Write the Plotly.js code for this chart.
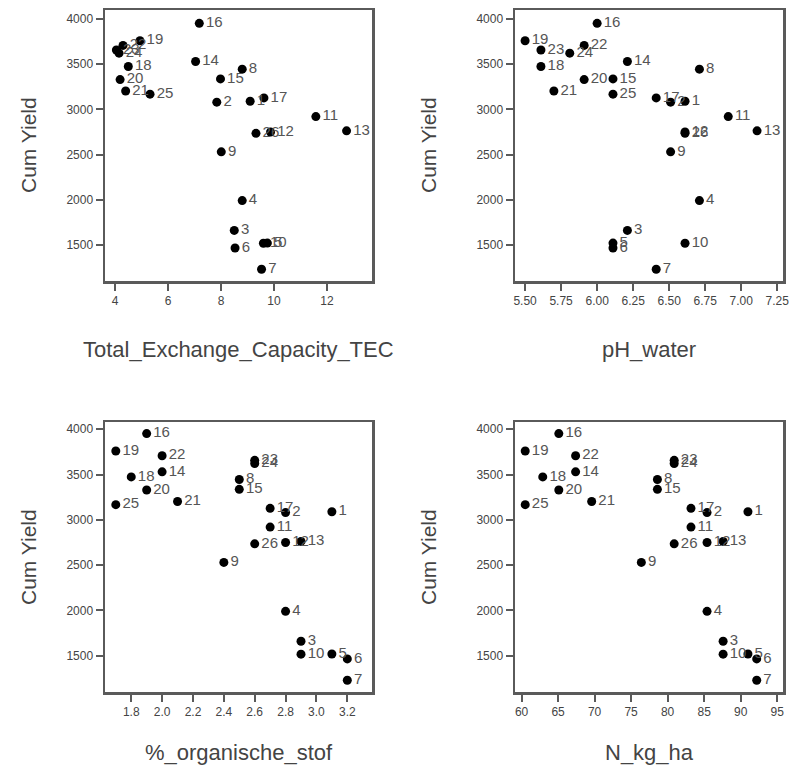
<!DOCTYPE html>
<html>
<head>
<meta charset="utf-8">
<script src="https://cdn.plot.ly/plotly-3.0.1.min.js"></script>
<style>html,body{margin:0;padding:0;background:#fff;}#chart{width:794px;height:776px;}</style>
</head>
<body>
<div id="chart"></div>
<script>
// Case numbers
const ids = ["1","2","3","4","5","6","7","8","9","10","11","12","13","14","15","16","17","18","19","20","21","22","23","24","25","26"];
// Total_Exchange_Capacity_TEC
const tec = [9.1, 7.84, 8.5, 8.8, 9.75, 8.53, 9.53, 8.8, 8.01, 9.6, 11.58, 9.87, 12.74, 7.04, 7.98, 7.18, 9.62, 4.5, 4.94, 4.19, 4.4, 4.3, 4.05, 4.15, 5.32, 9.32];
// pH_water
const phWater = [6.61, 6.51, 6.21, 6.71, 6.11, 6.11, 6.41, 6.71, 6.51, 6.61, 6.91, 6.61, 7.11, 6.21, 6.11, 6.0, 6.41, 5.61, 5.5, 5.91, 5.7, 5.91, 5.61, 5.81, 6.11, 6.61];
// %_organische_stof
const orgStof = [3.1, 2.8, 2.9, 2.8, 3.1, 3.2, 3.2, 2.5, 2.4, 2.9, 2.7, 2.8, 2.9, 2.0, 2.5, 1.9, 2.7, 1.8, 1.7, 1.9, 2.1, 2.0, 2.6, 2.6, 1.7, 2.6];
// N_kg_ha
const nKgHa = [91.0, 85.4, 87.6, 85.4, 91.0, 92.2, 92.2, 78.6, 76.4, 87.6, 83.2, 85.4, 87.6, 67.4, 78.6, 65.1, 83.2, 62.9, 60.5, 65.1, 69.6, 67.4, 80.9, 80.9, 60.5, 80.9];
// Cum Yield
const cumYield = [3090, 3080, 1660, 1990, 1520, 1465, 1230, 3445, 2530, 1518, 2920, 2750, 2762, 3530, 3337, 3952, 3127, 3474, 3760, 3330, 3203, 3708, 3657, 3622, 3168, 2735];

// Tick definitions
const yTicks = [1500, 2000, 2500, 3000, 3500, 4000];
const tecTicks = [4, 6, 8, 10, 12];
const phTicks = [5.5, 5.75, 6.0, 6.25, 6.5, 6.75, 7.0, 7.25];
const omTicks = [1.8, 2.0, 2.2, 2.4, 2.6, 2.8, 3.0, 3.2];
const nTicks = [60, 65, 70, 75, 80, 85, 90, 95];

const W = 794, H = 776;
function trace(xs, xa, ya) {
  return {
    type: 'scatter', mode: 'markers+text',
    x: xs, y: cumYield, text: ids,
    textposition: 'middle right',
    textfont: {family: 'Liberation Sans, Arial, sans-serif', size: 15, color: '#555'},
    marker: {color: '#000', size: 9},
    xaxis: xa, yaxis: ya, hoverinfo: 'none', cliponaxis: false
  };
}
const data = [
  trace(tec, 'x', 'y'),
  trace(phWater, 'x2', 'y2'),
  trace(orgStof, 'x3', 'y3'),
  trace(nKgHa, 'x4', 'y4')
];

const tickFont = {family: 'Liberation Sans, Arial, sans-serif', size: 12, color: '#444'};
function ax(domainPx, range, tickvals, fmt, anchor) {
  return {
    domain: domainPx, range: range, tickmode: 'array', tickvals: tickvals,
    ticktext: tickvals.map(v => fmt(v)),
    showgrid: false, zeroline: false, showline: true, mirror: true,
    linecolor: '#5a5a5a', linewidth: 2.5, ticks: 'outside', ticklen: 7, tickwidth: 2,
    tickcolor: '#5a5a5a', tickfont: tickFont, anchor: anchor, fixedrange: true
  };
}
const L1 = [105 / W, 372 / W], L2 = [515 / W, 783 / W];
const T = [1 - 281 / H, 1 - 10 / H], B = [1 - 692 / H, 1 - 422 / H];
const yfmt = v => String(v);

function ann(text, xPx, yPx, rot, size) {
  return {text: text, x: xPx / W, y: 1 - yPx / H, xref: 'paper', yref: 'paper',
    showarrow: false, textangle: rot || 0,
    font: {family: 'Liberation Sans, Arial, sans-serif', size: size, color: '#444'},
    xanchor: 'center', yanchor: 'middle'};
}

const layout = {
  width: W, height: H, margin: {l: 0, r: 0, t: 0, b: 0},
  paper_bgcolor: '#fff', plot_bgcolor: '#fff', showlegend: false,
  xaxis: ax(L1, [3.62, 13.7], tecTicks, v => String(v), 'y'),
  yaxis: ax(T, [1100, 4100], yTicks, yfmt, 'x'),
  xaxis2: ax(L2, [5.43, 7.29], phTicks, v => v.toFixed(2), 'y2'),
  yaxis2: ax(T, [1100, 4100], yTicks, yfmt, 'x2'),
  xaxis3: ax(L1, [1.63, 3.36], omTicks, v => v.toFixed(1), 'y3'),
  yaxis3: ax(B, [1100, 4080], yTicks, yfmt, 'x3'),
  xaxis4: ax(L2, [59.1, 95.8], nTicks, v => String(v), 'y4'),
  yaxis4: ax(B, [1100, 4080], yTicks, yfmt, 'x4'),
  annotations: [
    ann('Total_Exchange_Capacity_TEC', 238.5, 350, 0, 22),
    ann('pH_water', 649, 350, 0, 22),
    ann('%_organische_stof', 238.5, 752, 0, 22),
    ann('N_kg_ha', 649, 752, 0, 22),
    ann('Cum Yield', 28, 145, -90, 21),
    ann('Cum Yield', 428, 145, -90, 21),
    ann('Cum Yield', 28, 557, -90, 21),
    ann('Cum Yield', 428, 557, -90, 21)
  ]
};
Plotly.newPlot('chart', data, layout, {displayModeBar: false, staticPlot: true});
</script>
</body>
</html>
